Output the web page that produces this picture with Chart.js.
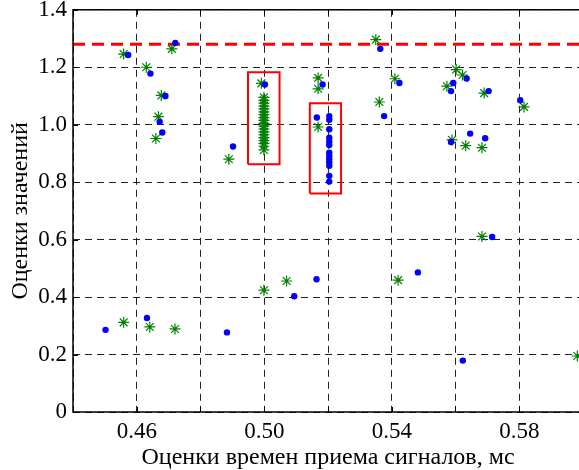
<!DOCTYPE html>
<html><head><meta charset="utf-8">
<script src="https://cdn.jsdelivr.net/npm/chart.js@4/dist/chart.umd.min.js"></script>
<style>html,body{margin:0;padding:0;overflow:hidden;background:#fff;width:579px;height:470px}#wrap{position:relative;top:-10px;width:600px;height:482px}</style>
</head><body><div id="wrap"><canvas id="c" width="600" height="482"></canvas></div>
<script>
const blueX = [0.4573,0.4721,0.4643,0.4690,0.4672,0.4680,0.4902,0.5002,0.5183,0.5165,
  0.5204,0.5204,0.5204,0.5204,0.5204,0.5204,0.5204,0.5204,0.5204,0.5204,0.5204,0.5204,0.5204,
  0.5364,0.5424,0.5376,0.5635,0.5593,0.5586,0.5704,0.5803,0.5646,0.5693,0.5586,
  0.4502,0.4632,0.4883,0.5094,0.5164,0.5715,0.5482,0.5623];
const blueY = [1.243,1.285,1.178,1.100,1.010,0.973,0.924,1.140,1.140,1.025,
  1.030,1.017,0.984,0.955,0.941,0.929,0.903,0.892,0.880,0.869,0.857,0.822,0.802,
  1.264,1.145,1.030,1.161,1.145,1.117,1.117,1.085,0.969,0.953,0.940,
  0.286,0.327,0.277,0.403,0.462,0.609,0.486,0.179];
const greenX = [0.4559,0.4710,0.4630,0.4677,0.4668,0.4660,0.4889,0.4991,
  0.4999,0.4999,0.4999,0.4999,0.4999,0.4999,0.4999,0.4999,0.4999,0.4999,0.4999,0.4999,0.4999,0.4999,0.4999,0.4999,0.4999,0.4999,0.4999,
  0.5169,0.5169,0.5169,0.5350,0.5410,0.5361,0.5602,0.5622,0.5573,0.5690,0.5815,0.5589,0.5632,0.5683,
  0.4559,0.4641,0.4720,0.4999,0.5070,0.5683,0.5420,0.5982];
const greenY = [1.246,1.264,1.200,1.102,1.028,0.952,0.880,1.144,
  1.095,1.085,1.075,1.065,1.055,1.045,1.035,1.025,1.015,1.005,0.995,0.985,0.975,0.965,0.955,0.945,0.935,0.925,0.912,
  1.163,1.125,0.992,1.296,1.160,1.079,1.192,1.173,1.134,1.110,1.062,0.947,0.927,0.920,
  0.312,0.296,0.289,0.424,0.456,0.611,0.459,0.195];
const thresholdY = 1.28;
const rect1X = [0.4949,0.5048]; const rect1Y = [0.862,1.183];
const rect2X = [0.5143,0.5241]; const rect2Y = [0.761,1.0745];
const xTickLabels = ['0.46','0.50','0.54','0.58'];
const xLabel = 'Оценки времен приема сигналов, мс';
const yLabel = 'Оценки значений';

const pts = (xs, ys) => xs.map((x, i) => ({x: x, y: ys[i]}));
const rectPts = (rx, ry) => [{x:rx[0],y:ry[0]},{x:rx[1],y:ry[0]},{x:rx[1],y:ry[1]},{x:rx[0],y:ry[1]},{x:rx[0],y:ry[0]}];
const serif = "'Liberation Serif', 'DejaVu Serif', 'Times New Roman', serif";

const frame = {
  id: 'frame',
  afterDraw(chart) {
    const {ctx, chartArea: a, scales} = chart;
    ctx.save();
    ctx.strokeStyle = '#000'; ctx.lineWidth = 1.5;
    ctx.strokeRect(a.left, a.top, a.right - a.left, a.bottom - a.top);
    ctx.lineWidth = 1;
    scales.y.ticks.forEach(t => {
      const py = Math.round(scales.y.getPixelForValue(t.value)) + 0.5;
      ctx.beginPath(); ctx.moveTo(a.left, py); ctx.lineTo(a.left + 5, py); ctx.stroke();
    });
    scales.x.ticks.forEach(t => {
      const px = Math.round(scales.x.getPixelForValue(t.value)) + 0.5;
      ctx.beginPath(); ctx.moveTo(px, a.bottom); ctx.lineTo(px, a.bottom - 5); ctx.stroke();
      ctx.beginPath(); ctx.moveTo(px, a.top); ctx.lineTo(px, a.top + 5); ctx.stroke();
    });
    ctx.restore();
  }
};

new Chart(document.getElementById('c'), {
  type: 'scatter',
  data: {
    datasets: [
      {data: pts(blueX, blueY), pointStyle: 'circle', pointRadius: 3.2, backgroundColor: '#0000ff', borderColor: '#0000ff', borderWidth: 0, order: 0},
      {data: pts(greenX, greenY), pointStyle: 'star', pointRadius: 5.5, backgroundColor: '#008000', borderColor: '#008000', borderWidth: 1.2, order: 1},
      {data: [{x:0.44,y:thresholdY},{x:0.60,y:thresholdY}], type: 'line', showLine: true, borderColor: '#ff0000', borderWidth: 3, borderDash: [12,7], pointRadius: 0, order: 3},
      {data: rectPts(rect1X, rect1Y), type: 'line', showLine: true, borderColor: '#ff0000', borderWidth: 2, pointRadius: 0, tension: 0, order: 2},
      {data: rectPts(rect2X, rect2Y), type: 'line', showLine: true, borderColor: '#ff0000', borderWidth: 2, pointRadius: 0, tension: 0, order: 2}
    ]
  },
  options: {
    responsive: false, animation: false,
    layout: {padding: {top: 8, right: 17, left: 0, bottom: 0}},
    plugins: {legend: {display: false}, tooltip: {enabled: false}},
    scales: {
      x: {
        type: 'linear', min: 0.44, max: 0.60,
        afterFit: s => { s.height = 60; },
        ticks: {stepSize: 0.02, autoSkip: false, maxRotation: 0, padding: 6, color: '#000',
          font: {family: serif, size: 23},
          callback: v => { const s = v.toFixed(2); return xTickLabels.includes(s) ? s : ''; }},
        grid: {color: '#222', lineWidth: 1, drawTicks: false},
        border: {display: false, dash: [7,5]},
        title: {display: true, text: xLabel, color: '#000', font: {family: serif, size: 24}, padding: {top: 0, bottom: 0}}
      },
      y: {
        min: 0, max: 1.4,
        afterFit: s => { s.width = 73; },
        ticks: {stepSize: 0.2, padding: 6, color: '#000',
          font: {family: serif, size: 23},
          callback: v => v === 0 ? '0' : v.toFixed(1)},
        grid: {color: '#222', lineWidth: 1, drawTicks: false},
        border: {display: false, dash: [7,5]},
        title: {display: true, text: yLabel, color: '#000', font: {family: serif, size: 24}, padding: {top: 6, bottom: 0}}
      }
    }
  },
  plugins: [frame]
});
</script></body></html>
